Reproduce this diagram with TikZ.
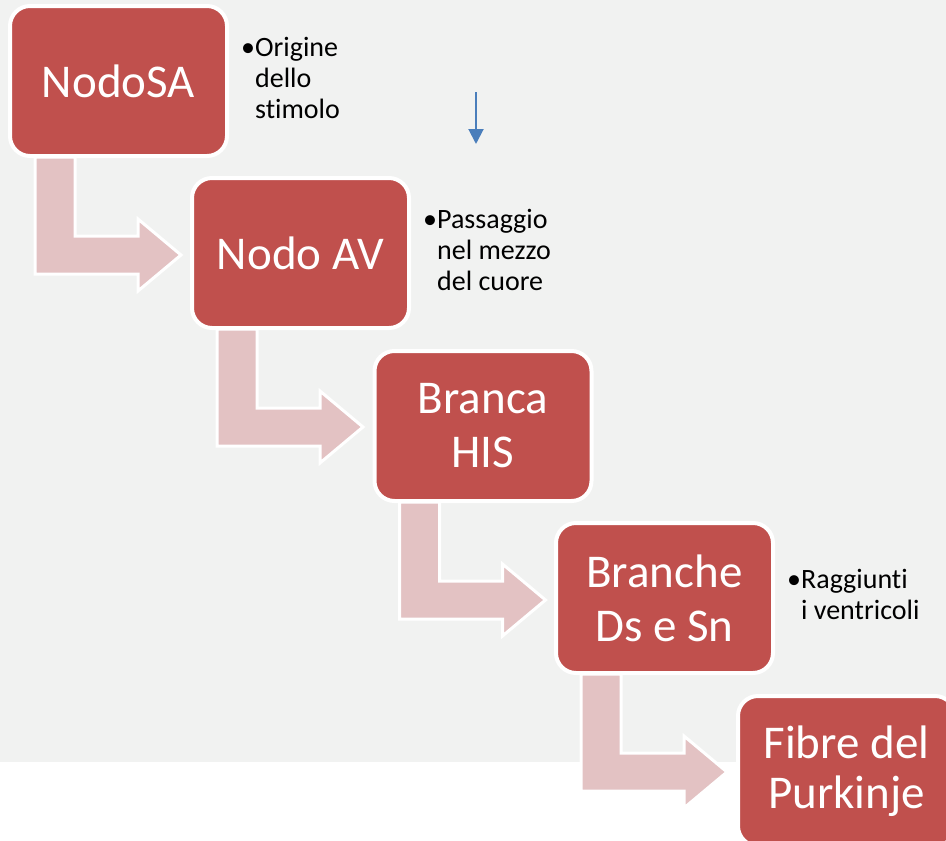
\documentclass[tikz,border=0pt]{standalone}
\usepackage{fontspec}
\setmainfont{Carlito}[Ligatures={NoCommon}]
\usetikzlibrary{calc,arrows.meta}
\definecolor{boxred}{HTML}{C0504D}
\definecolor{arrowpink}{HTML}{E3C2C3}
\definecolor{bggray}{HTML}{F1F2F1}
\definecolor{blueline}{HTML}{4A7EBB}
\newcommand\bentarr[1]{%
  \draw[bentarrow]
    ($(#1.south west)+(25,1)$) -- ($(#1.south west)+(65,1)$) --
    ($(#1.south west)+(65,80)$) -- ($(#1.south west)+(128,80)$) --
    ($(#1.south west)+(128,63)$) -- ($(#1.south west)+(171,99)$) --
    ($(#1.south west)+(128,135)$) -- ($(#1.south west)+(128,118)$) --
    ($(#1.south west)+(25,118)$) -- cycle;}
\begin{document}
\begin{tikzpicture}[x=1pt,y=-1pt,
  stagebox/.style={draw=white, line width=4pt, fill=boxred, rounded corners=20pt,
    minimum width=217pt, minimum height=150pt, text=white, align=center,
    inner sep=0pt, outer sep=0pt, font=\fontsize{47}{54}\selectfont},
  note/.style={anchor=west, inner sep=0pt, text=black, font=\fontsize{28}{31}\selectfont},
  bentarrow/.style={fill=arrowpink, draw=white, line width=3pt, line join=miter}]
\clip (0,0) rectangle (946,841);
\fill[white] (0,0) rectangle (946,841);
\fill[bggray] (0,0) rectangle (946,762);

\node[stagebox] (b1) at (118.5,81) {NodoSA};
\node[stagebox] (b2) at (300.5,253) {Nodo AV};
\node[stagebox] (b3) at (483,426) {Branca\\HIS};
\node[stagebox] (b4) at (664.5,598) {Branche\\Ds e Sn};
\node[stagebox, font=\fontsize{47}{50}\selectfont] (b5) at (846.5,771) {Fibre del\\Purkinje};

\bentarr{b1}
\bentarr{b2}
\bentarr{b3}
\bentarr{b4}

\node[note] (n1) at ($(b1.east)+(14,0)$) {\begin{tabular}{@{}l@{}l@{}}•&Origine\\&dello\\&stimolo\end{tabular}};
\node[note] (n2) at ($(b2.east)+(14,0)$) {\begin{tabular}{@{}l@{}l@{}}•&Passaggio\\&nel mezzo\\&del cuore\end{tabular}};
\node[note] (n4) at ($(b4.east)+(14,0)$) {\begin{tabular}{@{}l@{}l@{}}•&Raggiunti\\&i ventricoli\end{tabular}};

\coordinate (bluetop) at (476,92);
\coordinate (bluetip) at (476,144);
\draw[blueline, line width=2pt, -{Triangle[width=15pt,length=15pt]}] (bluetop) -- (bluetip);
\end{tikzpicture}
\end{document}
